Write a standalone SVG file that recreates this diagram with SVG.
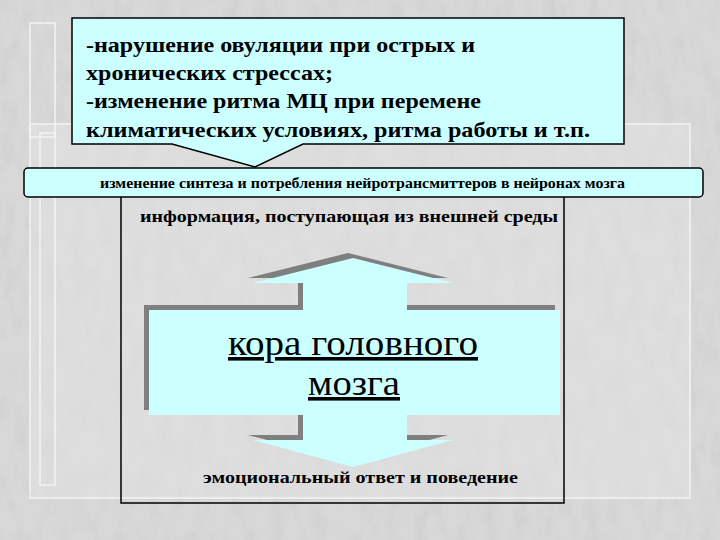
<svg xmlns="http://www.w3.org/2000/svg" width="720" height="540" viewBox="0 0 720 540">
  <defs>
    <filter id="marble" x="0" y="0" width="100%" height="100%">
      <feTurbulence type="fractalNoise" baseFrequency="0.07 0.03" numOctaves="4" seed="7" result="n"/>
      <feColorMatrix in="n" type="matrix" values="0 0 0 0 0.45  0 0 0 0 0.45  0 0 0 0 0.45  1.3 0 0 0 -0.55"/>
    </filter>
    <style>
      .cyan { fill: #ccffff; stroke: #000; stroke-width: 1.5; }
      .shadow { fill: #7f7f7f; }
      .serif { font-family: "Liberation Serif", "Times New Roman", serif; fill: #000; }
      .bold { font-weight: bold; }
      .frame { fill: none; stroke: #f4f4f4; stroke-width: 1.5; }
    </style>
  </defs>

  <!-- background -->
  <rect x="0" y="0" width="720" height="540" fill="#d8d8d8"/>
  <rect x="0" y="0" width="720" height="540" fill="#000" filter="url(#marble)" opacity="0.35"/>

  <!-- decorative frame -->
  <g id="frame">
    <rect x="30" y="124" width="660" height="374" fill="#e4e4e4" opacity="0.5"/>
    <rect class="frame" x="30" y="124" width="660" height="374"/>
    <rect class="frame" x="30" y="23" width="25" height="114"/>
    <rect class="frame" x="40" y="133" width="15" height="352"/>
  </g>

  <!-- inner box -->
  <g id="inner-box">
    <rect x="121" y="190" width="443" height="313" fill="none" stroke="#000" stroke-width="1.5"/>
  </g>

  <!-- callout -->
  <g id="callout">
    <path class="cyan" d="M72,18 H624 V144 H303 L255,167 L172,144 H72 Z"/>
    <text class="serif bold" font-size="22" x="86" y="52" textLength="389" lengthAdjust="spacingAndGlyphs">-нарушение овуляции при острых и</text>
    <text class="serif bold" font-size="22" x="86" y="80" textLength="247" lengthAdjust="spacingAndGlyphs">хронических стрессах;</text>
    <text class="serif bold" font-size="22" x="86" y="108" textLength="395" lengthAdjust="spacingAndGlyphs">-изменение ритма МЦ при перемене</text>
    <text class="serif bold" font-size="22" x="86" y="137" textLength="504" lengthAdjust="spacingAndGlyphs">климатических условиях, ритма работы и т.п.</text>
  </g>

  <!-- banner -->
  <g id="banner">
    <rect class="cyan" x="24" y="168" width="679" height="29" rx="4" ry="4"/>
    <text class="serif bold" font-size="14" x="100" y="188" textLength="525" lengthAdjust="spacingAndGlyphs" fill="#222">изменение синтеза и потребления нейротрансмиттеров в нейронах мозга</text>
  </g>

  <!-- input text -->
  <g id="info">
    <text class="serif bold" font-size="17" x="140" y="222" textLength="418" lengthAdjust="spacingAndGlyphs">информация, поступающая из внешней среды</text>
  </g>

  <!-- cortex double arrow -->
  <g id="cortex">
    <path class="shadow" transform="translate(-5,-5)" d="M353,258 L453,283 L407,283 L407,310 L560,310 L560,415 L407,415 L407,440 L453,440 L353,467 L253,440 L303,440 L303,415 L149,415 L149,310 L303,310 L303,283 L253,283 Z"/>
    <path fill="#ccffff" d="M353,258 L453,283 L407,283 L407,310 L560,310 L560,415 L407,415 L407,440 L453,440 L353,467 L253,440 L303,440 L303,415 L149,415 L149,310 L303,310 L303,283 L253,283 Z"/>
    <text class="serif" font-size="36" x="353" y="355" text-anchor="middle" text-decoration="underline" textLength="250" lengthAdjust="spacingAndGlyphs">кора головного</text>
    <text class="serif" font-size="36" x="354" y="395" text-anchor="middle" text-decoration="underline" textLength="92" lengthAdjust="spacingAndGlyphs">мозга</text>
  </g>

  <!-- output text -->
  <g id="response">
    <text class="serif bold" font-size="16" x="203" y="483" textLength="315" lengthAdjust="spacingAndGlyphs">эмоциональный ответ и поведение</text>
  </g>

  <g id="connectors"/>
</svg>
